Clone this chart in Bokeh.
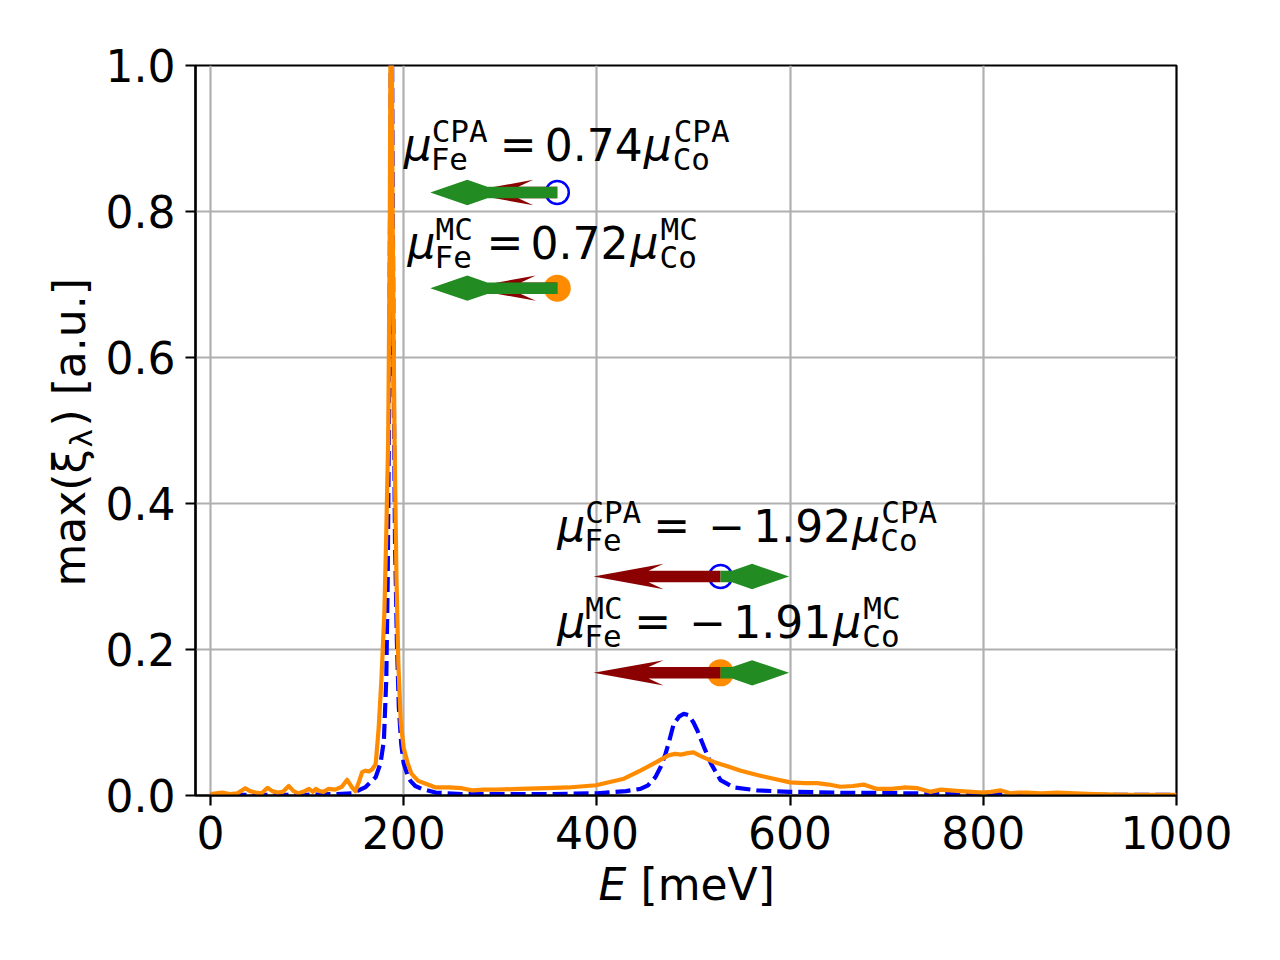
import math
from bokeh.plotting import figure
from bokeh.models import Label, FixedTicker, NumeralTickFormatter, Range1d
from bokeh.embed import file_html
from bokeh.resources import INLINE

# ---------------- data ----------------
# MC curve (orange, solid)
E_mc = [0, 12, 20, 28, 36, 41, 47, 53, 59, 64, 69, 75, 81, 86, 91, 96, 102, 106, 109, 113,
        117, 122, 129, 136, 141.5, 146, 150, 154, 157, 160.5, 164, 167.5, 171, 174, 177, 180,
        182, 184, 185.5, 187, 188.5, 190.5, 192.5, 194.5, 197, 200, 204, 208, 215, 225, 233,
        247, 260, 271, 283, 295, 320, 347, 370, 399, 428, 445, 462, 474, 481, 487, 494, 500,
        506, 511, 521, 535, 549, 566, 583, 600, 615, 628, 640, 652, 665, 676, 690, 705, 718,
        732, 745, 756, 766, 776, 788, 799, 808, 818, 828, 836, 845, 860, 877, 895, 914, 950, 1000]
xi_mc = [0.002, 0.004, 0.002, 0.003, 0.010, 0.006, 0.004, 0.003, 0.0105, 0.006, 0.004, 0.005,
         0.013, 0.006, 0.003, 0.005, 0.009, 0.005, 0.009, 0.006, 0.005, 0.009, 0.008, 0.012,
         0.0215, 0.012, 0.006, 0.02, 0.032, 0.034, 0.033, 0.036, 0.043, 0.09, 0.16, 0.25, 0.36,
         0.49, 0.75, 1.25, 0.8, 0.49, 0.3, 0.18, 0.10, 0.065, 0.045, 0.03, 0.02, 0.015, 0.011,
         0.011, 0.010, 0.007, 0.008, 0.008, 0.009, 0.010, 0.011, 0.014, 0.023, 0.034, 0.046,
         0.055, 0.057, 0.056, 0.058, 0.059, 0.055, 0.052, 0.046, 0.040, 0.034, 0.028, 0.023,
         0.018, 0.017, 0.017, 0.015, 0.012, 0.013, 0.015, 0.009, 0.009, 0.011, 0.010, 0.005,
         0.008, 0.007, 0.006, 0.005, 0.004, 0.005, 0.007, 0.003, 0.004, 0.004, 0.003, 0.004,
         0.003, 0.002, 0.001, 0.001]

# CPA curve (blue, dashed)
E_cpa = [0, 50, 100, 129, 147, 160, 171, 176, 179.5, 182, 183.5, 185, 186.3, 187.2, 188.2,
         189.5, 191, 193, 195, 197.5, 200, 204, 207, 212, 219, 233, 260, 300, 350, 400, 430,
         445, 453, 460.5, 466, 471, 475, 479.5, 485, 490, 495, 500, 504, 511, 518, 528, 542,
         566, 600, 652, 721, 800, 900, 1000]
xi_cpa = [0.001, 0.001, 0.001, 0.002, 0.003, 0.011, 0.025, 0.044, 0.075, 0.16, 0.3, 0.55, 0.9,
          1.3, 0.95, 0.6, 0.35, 0.21, 0.12, 0.07, 0.044, 0.028, 0.02, 0.013, 0.009, 0.004,
          0.002, 0.002, 0.002, 0.003, 0.006, 0.009, 0.014, 0.025, 0.039, 0.057, 0.075, 0.098,
          0.108, 0.112, 0.11, 0.1, 0.089, 0.066, 0.044, 0.021, 0.011, 0.007, 0.005, 0.004,
          0.003, 0.002, 0.001, 0.001]

x_ticks = [0, 200, 400, 600, 800, 1000]
y_ticks = [0.0, 0.2, 0.4, 0.6, 0.8, 1.0]

# magnetic-moment arrows (quiver-like): origin, model, Fe and Co vectors
arrow_E = [359, 359, 528, 528]
arrow_y = [0.826, 0.695, 0.300, 0.168]
arrow_model = ["CPA", "MC", "CPA", "MC"]
mu_Fe = [-0.74, -0.72, -1.0, -1.0]
mu_Co = [-1.0, -1.0, 0.54, 0.54]
coef_text = ["0.74", "0.72", "\u22121.92", "\u22121.91"]

# annotation anchors (data units)
label_E = [200, 204, 359, 359]
label_y = [0.871, 0.737, 0.349, 0.218]

# ---------------- geometry / style ----------------
X0, X1 = -15.5, 1000
W, H = 1262, 940
BL, BT = 195, 65
FW, FH = 981, 730
BR = W - BL - FW
BB = H - BT - FH
SX = FW / (X1 - X0)   # px per meV
SY = FH / 1.0         # px per unit

FONT = "DejaVu Sans"
MONO = "DejaVu Sans Mono"
BIG = 44
SMALL = 31
BASE_FIX = 0.34   # baseline correction (fraction of font size)

p = figure(width=W, height=H, x_range=Range1d(X0, X1), y_range=Range1d(0, 1),
           output_backend="svg", toolbar_location=None,
           min_border_left=BL, min_border_right=BR, min_border_top=BT, min_border_bottom=BB)
p.background_fill_color = "white"
p.border_fill_color = "white"
p.outline_line_color = "black"
p.outline_line_width = 2.2
p.outline_line_alpha = 1.0

for ax in (p.xaxis[0], p.yaxis[0]):
    ax.axis_line_width = 2.2
    ax.axis_line_color = "black"
    ax.major_tick_line_width = 2.2
    ax.major_tick_line_color = "black"
    ax.major_tick_out = 10
    ax.major_tick_in = 0
    ax.minor_tick_out = 0
    ax.minor_tick_in = 0
    ax.minor_tick_line_color = None
    ax.major_label_text_font = FONT
    ax.major_label_text_font_size = f"{BIG}px"
    ax.major_label_text_color = "black"
    ax.major_label_standoff = 10
p.xaxis.ticker = FixedTicker(ticks=x_ticks)
p.yaxis.ticker = FixedTicker(ticks=y_ticks)
p.yaxis.formatter = NumeralTickFormatter(format="0.0")

p.grid.grid_line_color = "#b0b0b0"
p.grid.grid_line_width = 2.2
p.xgrid.ticker = FixedTicker(ticks=x_ticks)
p.ygrid.ticker = FixedTicker(ticks=y_ticks)

# curves (orange drawn on top of the dashed blue one)
p.line(E_cpa, xi_cpa, line_color="#0000ff", line_width=4.2, line_dash="15 6")
p.line(E_mc, xi_mc, line_color="#ff8c00", line_width=4.2, line_join="round")

# markers at arrow origins
for xe, ye, m in zip(arrow_E, arrow_y, arrow_model):
    if m == "CPA":
        p.scatter([xe], [ye], marker="circle", size=23, fill_color=None,
                  line_color="#0000ff", line_width=2.5)
    else:
        p.scatter([xe], [ye], marker="circle", size=27, fill_color="#ff8c00",
                  line_color=None)

# arrows
ARROW_PX = 127.0
SHAFT = 5.75
HEAD = 12.7


def arrow_poly(x0, y0, u, hl, hal):
    L = abs(u) * ARROW_PX
    d = 1 if u >= 0 else -1
    pts = [(0, -SHAFT), (L - hal, -SHAFT), (L - hl, -HEAD), (L, 0),
           (L - hl, HEAD), (L - hal, SHAFT), (0, SHAFT)]
    return ([x0 + d * s / SX for s, t in pts], [y0 + t / SY for s, t in pts])


fe_xs, fe_ys, co_xs, co_ys = [], [], [], []
for xe, ye, uf, uc in zip(arrow_E, arrow_y, mu_Fe, mu_Co):
    a, b = arrow_poly(xe, ye, uf, 70, 55)
    fe_xs.append(a); fe_ys.append(b)
    a, b = arrow_poly(xe, ye, uc, 37, 57)
    co_xs.append(a); co_ys.append(b)
p.patches(fe_xs, fe_ys, fill_color="#8b0000", line_color=None)
p.patches(co_xs, co_ys, fill_color="#228b22", line_color=None)


def add_text(fig, x, y, text, size, font=FONT, style="normal", dx=0, dy=0, angle=0.0):
    fix = BASE_FIX * size
    if angle:
        dx -= fix
    else:
        dy += fix
    fig.add_layout(Label(x=x, y=y, text=text, x_offset=dx, y_offset=dy,
                         text_font_size=f"{size}px", text_font=font,
                         text_font_style=style, text_baseline="alphabetic",
                         text_align="left", angle=angle, text_color="black"))


# horizontal offsets (px) of the pieces of each annotation
offs = [
    dict(eq=96, coef=[141], mu2=240, s2=269),
    dict(eq=79, coef=[123], mu2=223, s2=252),
    dict(eq=96, coef=[151, 196], mu2=295, s2=323),
    dict(eq=77, coef=[132, 176], mu2=276, s2=305),
]
SUP_DY = 18
SUB_DY = -10
for xe, ye, m, ct, o in zip(label_E, label_y, arrow_model, coef_text, offs):
    add_text(p, xe, ye, "\u03bc", BIG, style="italic")
    add_text(p, xe, ye, m, SMALL, font=MONO, dx=28, dy=SUP_DY)
    add_text(p, xe, ye, "Fe", SMALL, font=MONO, dx=27, dy=SUB_DY)
    add_text(p, xe, ye, "=", BIG, dx=o["eq"])
    if len(o["coef"]) == 1:
        add_text(p, xe, ye, ct, BIG, dx=o["coef"][0])
    else:
        add_text(p, xe, ye, ct[0], BIG, dx=o["coef"][0])
        add_text(p, xe, ye, ct[1:], BIG, dx=o["coef"][1])
    add_text(p, xe, ye, "\u03bc", BIG, style="italic", dx=o["mu2"])
    add_text(p, xe, ye, m, SMALL, font=MONO, dx=o["s2"] + 1, dy=SUP_DY)
    add_text(p, xe, ye, "Co", SMALL, font=MONO, dx=o["s2"], dy=SUB_DY)

# ---------------- transparent overlay (separate root) for the axis titles ----------------
# (annotations of the main plot are clipped to its frame)
q = figure(width=W, height=H, x_range=Range1d(0, W), y_range=Range1d(H, 0),
           output_backend="svg", toolbar_location=None,
           x_axis_type=None, y_axis_type=None, min_border=0)
q.grid.visible = False
q.outline_line_color = None
q.background_fill_alpha = 0
q.border_fill_alpha = 0
q.styles = {"margin-top": f"-{H}px", "pointer-events": "none"}

add_text(q, 598, 899, "E", BIG, style="italic")
add_text(q, 640, 899, "[meV]", BIG)
ROT = math.pi / 2
add_text(q, 84, 586, "max(\u03be", BIG, angle=ROT)
add_text(q, 91, 447, "\u03bb", SMALL, angle=ROT)
add_text(q, 84, 426, ") [a.u.]", BIG, angle=ROT)

open("out.html", "w").write(file_html([p, q], INLINE))
